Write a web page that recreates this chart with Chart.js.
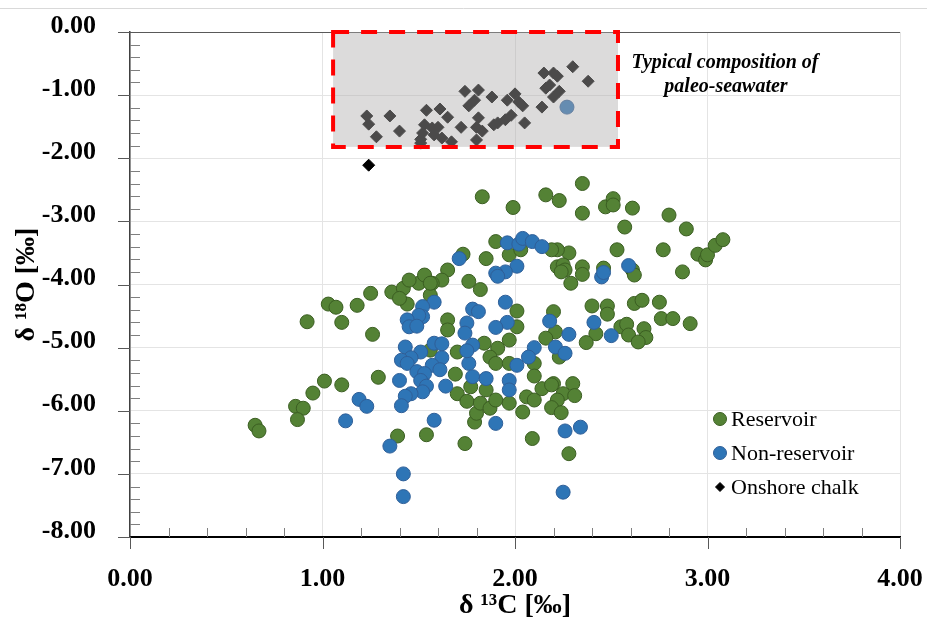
<!DOCTYPE html>
<html>
<head>
<meta charset="utf-8">
<script src="https://cdn.jsdelivr.net/npm/chart.js@4.4.1/dist/chart.umd.min.js"></script>
<style>
  html, body { margin: 0; padding: 0; background: #fff; }
  #wrap { position: relative; width: 927px; height: 626px; }
</style>
</head>
<body>
<div id="wrap"><canvas id="chart"></canvas></div>
<script>
// [d13C, d18O] pairs
const reservoir = [
  [0.92,-4.59],[1.03,-4.31],[1.07,-4.36],[1.10,-4.60],[1.18,-4.33],[1.25,-4.14],[1.26,-4.79],[1.36,-4.12],
  [1.42,-4.06],[1.44,-4.31],[1.50,-3.98],[1.65,-4.56],[1.65,-4.72],[1.29,-5.47],[1.01,-5.53],[1.10,-5.59],
  [0.95,-5.72],[0.86,-5.93],[0.90,-5.96],[0.87,-6.14],[0.65,-6.23],[0.67,-6.32],[1.39,-6.40],[1.54,-6.38],
  [1.74,-6.52],[1.70,-5.07],[1.69,-5.42],[1.70,-5.73],[1.75,-5.85],[1.79,-6.18],[1.80,-6.04],[1.77,-5.62],
  [1.56,-5.04],[1.83,-2.61],[1.99,-2.78],[2.16,-2.58],[2.23,-2.67],[2.35,-2.40],[2.35,-2.87],[2.47,-2.77],
  [2.51,-2.64],[2.51,-2.74],[2.61,-2.79],[2.57,-3.09],[2.80,-2.90],[2.89,-3.12],[2.77,-3.45],[2.95,-3.52],
  [2.99,-3.61],[3.00,-3.53],[3.04,-3.38],[3.08,-3.29],[2.87,-3.80],[2.53,-3.45],[2.61,-3.77],[2.62,-3.85],
  [2.46,-3.74],[2.35,-3.72],[2.35,-3.84],[2.29,-3.98],[2.28,-3.50],[2.22,-3.45],[2.22,-3.72],[2.25,-3.69],
  [2.26,-3.77],[2.24,-3.80],[2.19,-3.45],[1.90,-3.32],[1.97,-3.53],[2.03,-3.45],[1.85,-3.59],[1.73,-3.52],
  [1.65,-3.77],[1.62,-3.93],[1.76,-3.95],[1.82,-4.08],[2.01,-4.42],[2.01,-4.67],[1.97,-4.88],[2.20,-4.43],
  [2.21,-4.75],[2.16,-4.85],[2.40,-4.34],[2.48,-4.34],[2.48,-4.47],[2.62,-4.30],[2.66,-4.25],[2.75,-4.28],
  [2.76,-4.54],[2.82,-4.54],[2.91,-4.62],[2.55,-4.67],[2.58,-4.63],[2.59,-4.80],[2.67,-4.70],[2.68,-4.84],
  [2.64,-4.91],[2.42,-4.78],[2.37,-4.92],[1.84,-4.93],[1.91,-5.01],[1.87,-5.15],[1.90,-5.25],[2.10,-5.25],
  [2.10,-5.45],[2.30,-5.57],[2.20,-5.57],[2.23,-5.15],[1.97,-5.25],[1.82,-5.88],[1.87,-5.96],[1.85,-5.67],
  [1.90,-5.83],[1.97,-5.88],[2.06,-5.78],[2.10,-5.83],[2.04,-6.02],[2.14,-5.65],[2.19,-5.59],[2.25,-5.73],
  [2.22,-5.83],[2.31,-5.76],[2.19,-5.95],[2.24,-6.03],[2.09,-6.44],[2.28,-6.68],[1.45,-3.93],[1.53,-3.85],
  [1.57,-3.98],[1.40,-4.22],[1.56,-4.17],[1.56,-3.98]
];
const nonReservoir = [
  [1.58,-4.28],[1.52,-4.35],[1.52,-4.51],[1.50,-4.49],[1.44,-4.56],[1.45,-4.67],[1.49,-4.66],[1.43,-4.99],
  [1.51,-5.07],[1.46,-5.16],[1.41,-5.20],[1.44,-5.25],[1.58,-4.93],[1.62,-4.94],[1.62,-5.16],[1.57,-5.28],
  [1.61,-5.35],[1.49,-5.38],[1.53,-5.41],[1.51,-5.52],[1.54,-5.61],[1.64,-5.61],[1.40,-5.52],[1.52,-5.70],
  [1.46,-5.73],[1.43,-5.77],[1.41,-5.92],[1.19,-5.82],[1.23,-5.93],[1.12,-6.16],[1.58,-6.15],[1.35,-6.56],
  [1.42,-7.00],[1.42,-7.36],[1.78,-4.39],[1.75,-4.61],[1.74,-4.77],[1.78,-4.96],[1.76,-5.25],[1.78,-5.46],
  [1.75,-5.05],[1.96,-3.34],[2.02,-3.36],[2.04,-3.27],[2.09,-3.32],[2.14,-3.40],[1.71,-3.59],[2.01,-3.71],
  [1.95,-3.80],[1.90,-3.82],[1.91,-3.87],[2.45,-3.88],[2.46,-3.81],[2.59,-3.70],[1.95,-4.28],[1.81,-4.43],
  [1.96,-4.60],[1.90,-4.68],[2.18,-4.58],[2.28,-4.79],[2.41,-4.60],[2.50,-4.81],[2.10,-5.00],[2.07,-5.15],
  [2.21,-4.99],[2.26,-5.09],[2.01,-5.28],[1.85,-5.49],[1.97,-5.52],[1.97,-5.67],[1.90,-6.20],[2.26,-6.32],
  [2.34,-6.26],[2.25,-7.29],[2.27,-1.19]
];
const onshoreChalk = [
  [1.23,-1.33],[1.24,-1.46],[1.35,-1.33],[1.28,-1.66],[1.40,-1.57],[1.51,-1.70],[1.52,-1.60],[1.54,-1.24],
  [1.61,-1.22],[1.65,-1.35],[1.53,-1.47],[1.57,-1.52],[1.60,-1.51],[1.58,-1.63],[1.62,-1.68],[1.67,-1.74],
  [1.72,-1.51],[1.74,-0.94],[1.81,-0.92],[1.79,-1.08],[1.76,-1.17],[1.88,-1.03],[1.81,-1.36],[1.80,-1.51],
  [1.83,-1.57],[1.80,-1.71],[1.89,-1.47],[1.91,-1.44],[1.95,-1.39],[1.98,-1.32],[1.96,-1.08],[2.00,-0.98],
  [2.02,-1.11],[2.04,-1.17],[2.05,-1.44],[2.14,-1.19],[2.15,-0.65],[2.20,-0.65],[2.22,-0.70],[2.30,-0.55],
  [2.38,-0.78],[2.16,-0.89],[2.18,-0.84],[2.23,-0.94],[2.20,-1.03],[1.51,-1.76],[1.24,-2.11]
];
const seriesNames = ['Reservoir', 'Non-reservoir', 'Onshore chalk'];
const xTickValues = [0, 1, 2, 3, 4];
const yTickValues = [0, -1, -2, -3, -4, -5, -6, -7, -8];
// shaded paleo-seawater field, in data units
const seawaterBox = { xMin: 1.055, xMax: 2.535, yMin: -1.82, yMax: 0 };
const boxNote = ['Typical composition of', 'paleo-seawater'];

const serif = "'Liberation Serif', 'Times New Roman', serif";
const toPts = arr => arr.map(p => ({ x: p[0], y: p[1] }));

const styles = [
  { bg: '#548235', border: '#3b5e22', style: 'circle', r: 7 },
  { bg: '#2e75b6', border: '#2f5f98', style: 'circle', r: 7 },
  { bg: '#000000', border: '#000000', style: 'rectRot', r: 6 }
];

const decor = {
  id: 'decor',
  afterDatasetsDraw(chart) {
    const { ctx, chartArea: a, scales: { x, y } } = chart;
    ctx.save();
    ctx.lineWidth = 1;

    // thin outer frame line near the top
    ctx.strokeStyle = '#d9d9d9';
    ctx.beginPath();
    ctx.moveTo(0, 8.5);
    ctx.lineTo(chart.width, 8.5);
    ctx.stroke();

    // minor ticks every 0.2 (inside), major ticks (outside)
    ctx.strokeStyle = '#7f7f7f';
    ctx.beginPath();
    for (let i = 1; i < 20; i++) {
      if (i % 5 === 0) continue;
      const px = Math.round(x.getPixelForValue(i * 0.2)) + 0.5;
      ctx.moveTo(px, a.bottom);
      ctx.lineTo(px, a.bottom - 9);
    }
    for (let i = 1; i < 40; i++) {
      if (i % 5 === 0) continue;
      const py = Math.round(y.getPixelForValue(-i * 0.2)) + 0.5;
      ctx.moveTo(a.left, py);
      ctx.lineTo(a.left + 10, py);
    }
    ctx.stroke();

    ctx.strokeStyle = '#595959';
    ctx.beginPath();
    xTickValues.forEach(v => {
      const px = Math.round(x.getPixelForValue(v)) + 0.5;
      ctx.moveTo(px, a.bottom);
      ctx.lineTo(px, a.bottom + 12);
    });
    yTickValues.forEach(v => {
      const py = Math.round(y.getPixelForValue(v)) + 0.5;
      ctx.moveTo(a.left - 12, py);
      ctx.lineTo(a.left, py);
    });
    // top frame line
    ctx.moveTo(a.left, a.top + 0.5);
    ctx.lineTo(a.right, a.top + 0.5);
    ctx.stroke();

    // seawater field: translucent grey over the points, red dashed outline
    const bx1 = x.getPixelForValue(seawaterBox.xMin), bx2 = x.getPixelForValue(seawaterBox.xMax);
    const by1 = y.getPixelForValue(seawaterBox.yMax), by2 = y.getPixelForValue(seawaterBox.yMin);
    ctx.fillStyle = 'rgba(173,171,172,0.43)';
    ctx.fillRect(bx1, by1, bx2 - bx1, by2 - by1);
    ctx.strokeStyle = '#ff0000';
    ctx.lineWidth = 4;
    ctx.setLineDash([16, 12]);
    ctx.strokeRect(bx1, by1, bx2 - bx1, by2 - by1);
    ctx.setLineDash([]);

    // note text
    ctx.fillStyle = '#000';
    ctx.font = "italic bold 20px " + serif;
    ctx.textAlign = 'center';
    ctx.textBaseline = 'middle';
    ctx.fillText(boxNote[0], 725, 63);
    ctx.fillText(boxNote[1], 726, 87);

    // legend
    ctx.font = "22px " + serif;
    ctx.textAlign = 'left';
    chart.data.datasets.forEach((ds, i) => {
      const ly = 419 + i * 34;
      const s = styles[i];
      ctx.fillStyle = s.bg;
      ctx.strokeStyle = s.border;
      ctx.lineWidth = 1;
      ctx.beginPath();
      if (s.style === 'circle') {
        ctx.arc(720, ly, 6.5, 0, Math.PI * 2);
      } else {
        ctx.moveTo(720, ly - 4.5); ctx.lineTo(724.5, ly);
        ctx.lineTo(720, ly + 4.5); ctx.lineTo(715.5, ly);
        ctx.closePath();
      }
      ctx.fill();
      ctx.stroke();
      ctx.fillStyle = '#000';
      ctx.fillText(ds.label, 731, ly + 1);
    });
    ctx.restore();
  }
};

new Chart(document.getElementById('chart'), {
  type: 'scatter',
  data: {
    datasets: [
      { label: seriesNames[0], data: toPts(reservoir), order: 3 },
      { label: seriesNames[1], data: toPts(nonReservoir), order: 2 },
      { label: seriesNames[2], data: toPts(onshoreChalk), order: 1 }
    ].map((ds, i) => Object.assign(ds, {
      backgroundColor: styles[i].bg,
      borderColor: styles[i].border,
      borderWidth: 1,
      pointStyle: styles[i].style,
      pointRadius: styles[i].r,
      pointHoverRadius: styles[i].r
    }))
  },
  options: {
    responsive: true,
    maintainAspectRatio: false,
    animation: false,
    layout: { padding: { top: 32, right: 27, left: 0, bottom: 0 } },
    plugins: { legend: { display: false }, tooltip: { enabled: false } },
    scales: {
      x: {
        type: 'linear', min: 0, max: 4,
        afterBuildTicks: s => { s.ticks = xTickValues.map(v => ({ value: v })); },
        afterFit: s => { s.height = 89; },
        ticks: {
          callback: v => Number(v).toFixed(2),
          color: '#000', padding: 3,
          font: { family: serif, size: 26, weight: 'bold' }
        },
        grid: { color: '#e4e4e4', tickColor: 'rgba(0,0,0,0)', tickLength: 24 },
        border: { color: '#000', width: 2 },
        title: {
          display: true, text: 'δ ¹³C [‰]', color: '#000',
          font: { family: serif, size: 28, weight: 'bold' },
          padding: { top: 0, bottom: 3 }
        }
      },
      y: {
        type: 'linear', min: -8, max: 0,
        afterBuildTicks: s => { s.ticks = yTickValues.map(v => ({ value: v })); },
        afterFit: s => { s.width = 130; },
        ticks: {
          callback: v => Number(v).toFixed(2),
          color: '#000', padding: 14, labelOffset: -6,
          font: { family: serif, size: 26, weight: 'bold' }
        },
        grid: { color: '#e4e4e4', tickColor: 'rgba(0,0,0,0)', tickLength: 20 },
        border: { color: '#404040', width: 1.5 },
        title: {
          display: true, text: 'δ ¹⁸O [‰]', color: '#000',
          font: { family: serif, size: 28, weight: 'bold' },
          padding: { top: 10, bottom: 0 }
        }
      }
    }
  },
  plugins: [decor]
});
</script>
</body>
</html>
